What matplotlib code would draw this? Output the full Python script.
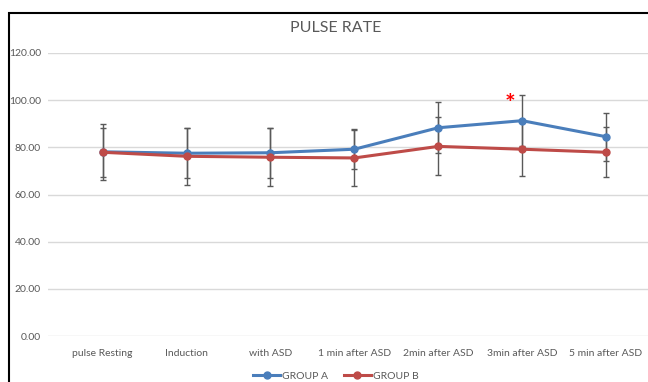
import matplotlib.pyplot as plt
from matplotlib.patches import Rectangle

# Data
categories = ["pulse Resting", "Induction", "with ASD", "1 min after ASD",
              "2min after ASD", "3min after ASD", "5 min after ASD"]
group_a = [78.1, 77.5, 77.7, 79.2, 88.3, 91.3, 84.5]
group_a_sd = [11.9, 10.5, 10.6, 8.4, 10.8, 10.8, 10.2]
group_b = [77.9, 76.2, 75.8, 75.5, 80.4, 79.2, 77.9]
group_b_sd = [10.5, 12.2, 12.3, 12.0, 12.3, 11.5, 10.6]
y_ticks = [0, 20, 40, 60, 80, 100, 120]

plt.rcParams['font.family'] = ['Lato', 'DejaVu Sans']

W, H = 648, 382
fig = plt.figure(figsize=(W / 100, H / 100), dpi=100)
ax = fig.add_axes([48 / W, 46 / H, 1 - 48 / W, (336 - 53) / H])

x = list(range(len(categories)))
blue = "#4a7ebb"
red = "#be4b48"
grey = "#595959"

# Error bars first, then lines on top
ax.errorbar(x, group_a, yerr=group_a_sd, fmt="none", ecolor=grey,
            elinewidth=1, capsize=2.5, capthick=1, zorder=2)
ax.errorbar(x, group_b, yerr=group_b_sd, fmt="none", ecolor=grey,
            elinewidth=1, capsize=2.5, capthick=1, zorder=2)
ax.plot(x, group_a, color=blue, lw=2.2, marker="o", ms=5, label="GROUP A", zorder=3)
ax.plot(x, group_b, color=red, lw=2.2, marker="o", ms=5, label="GROUP B", zorder=3)

# Significance marker
ax.annotate("*", xy=(5, group_a[5] + group_a_sd[5]), xytext=(-9, -15),
            textcoords="offset points", ha="center", va="bottom",
            color="red", fontsize=18, fontweight="bold")

ax.set_ylim(0, 120)
ax.set_xlim(-0.652, 6.5)
ax.set_yticks(y_ticks)
ax.set_yticklabels([f"{v:.2f}" for v in y_ticks])
ax.set_xticks(x)
ax.set_xticklabels(categories)
ax.tick_params(length=0, labelsize=7.5, labelcolor=grey)
ax.tick_params(axis="x", pad=9)
ax.tick_params(axis="y", pad=5)
ax.grid(axis="y", color="#d9d9d9", lw=1)
ax.set_axisbelow(True)
for s in ax.spines.values():
    s.set_visible(False)

fig.text(336 / W, 1 - 28 / H, "PULSE RATE", ha="center", va="center",
         fontsize=11.5, color=grey)

fig.legend(loc="center", bbox_to_anchor=(336 / W, 1 - 376 / H), ncol=2,
           frameon=False, fontsize=7.5, labelcolor=grey, handlelength=2.6,
           columnspacing=1.5, handletextpad=0.2)

# Chart frame (cropped at right and bottom)
fig.add_artist(Rectangle((9 / W, -0.2), 1.2, 1.2 - 13 / H, transform=fig.transFigure,
                         fill=False, lw=1.5, ec="black", clip_on=False))

fig.savefig("out.png", dpi=100)
